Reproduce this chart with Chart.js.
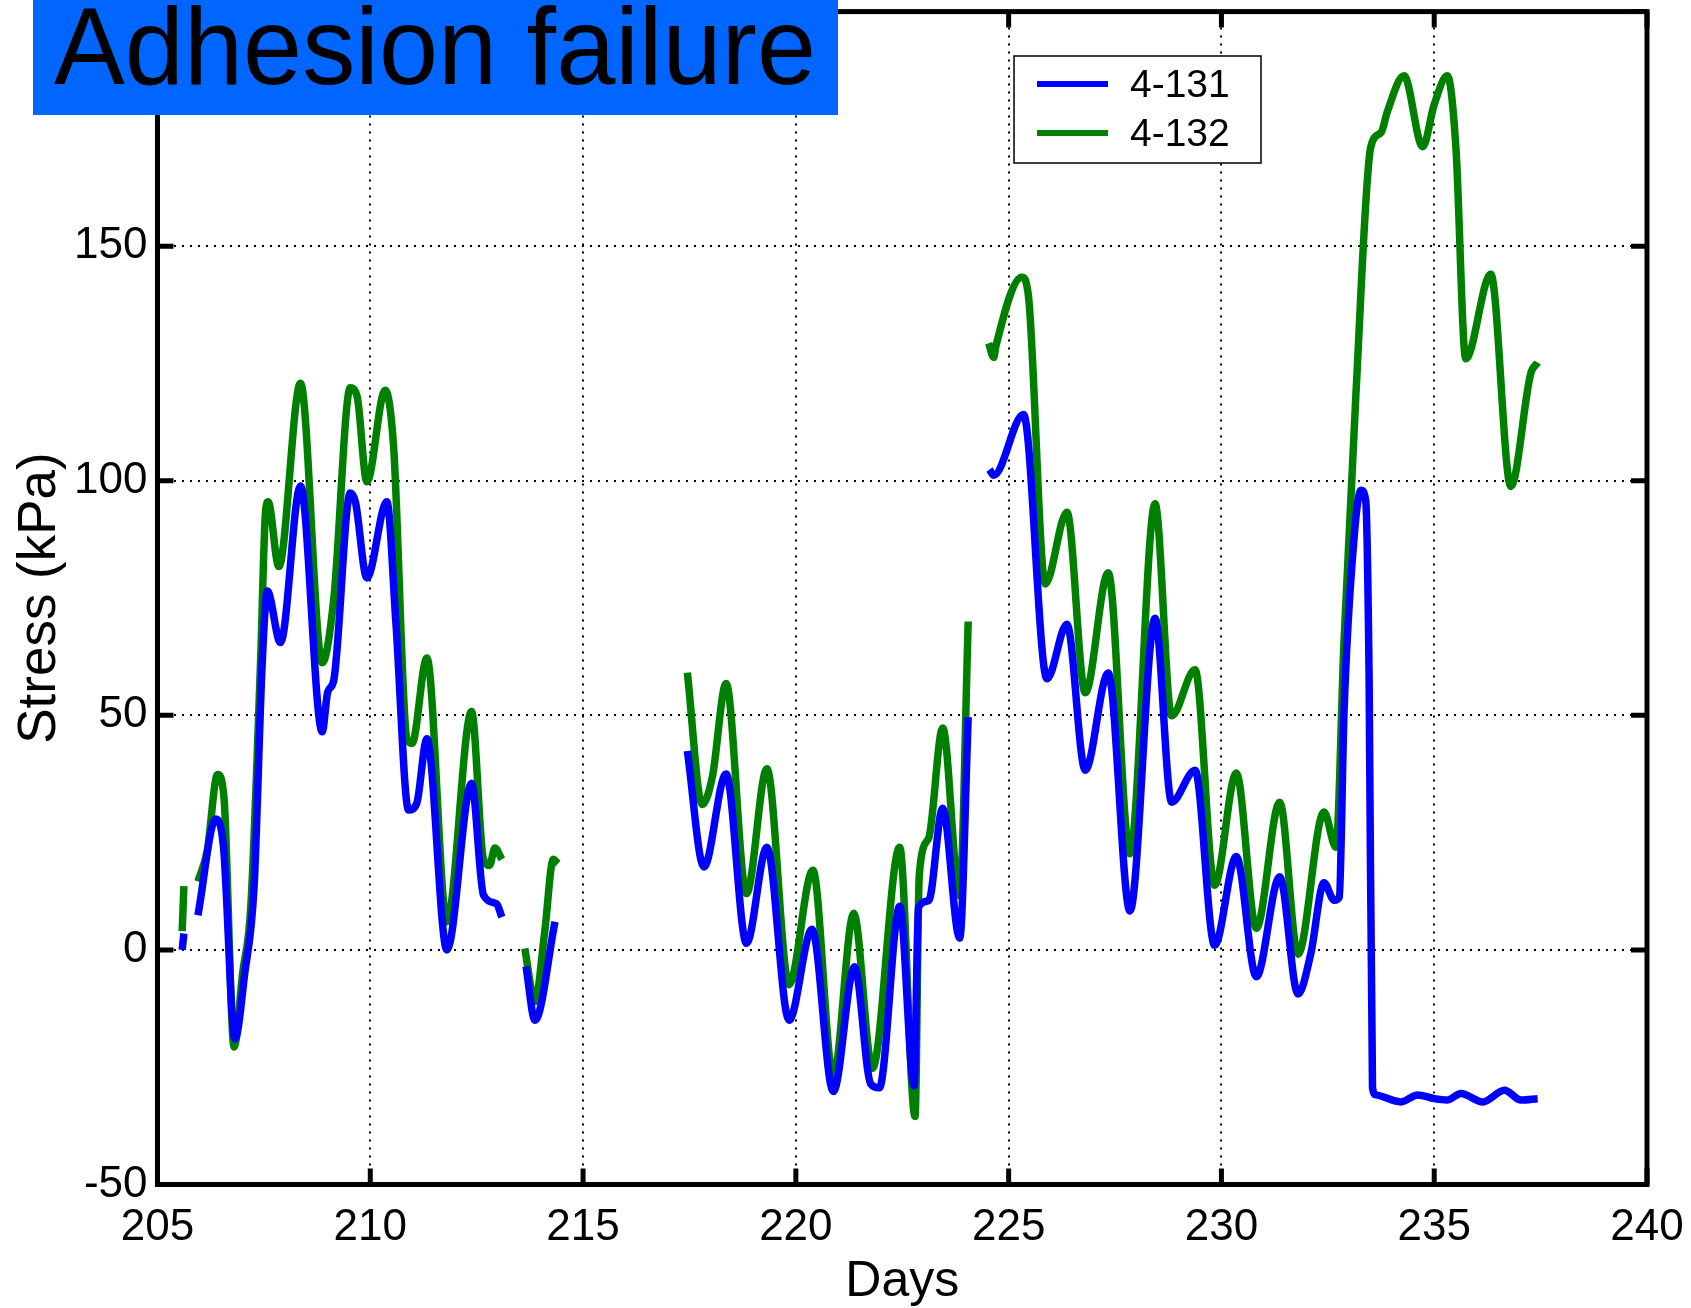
<!DOCTYPE html>
<html>
<head>
<meta charset="utf-8">
<title>Adhesion failure</title>
<script src="https://cdn.jsdelivr.net/npm/chart.js@4/dist/chart.umd.min.js"></script>
<style>
  html, body { margin: 0; padding: 0; background: #ffffff; }
  #wrap { width: 1691px; height: 1308px; position: relative; }
</style>
</head>
<body>
<div id="wrap"><canvas id="chart" width="1691" height="1308"></canvas></div>
<script>
// Gauge 4-131 (null stress values separate the recording periods)
const day131 = [
  205.58, 205.62, 205.75,
  205.95, 206.37, 206.55, 206.82, 207.05, 207.27, 207.46, 207.58, 207.89, 208.36, 208.87, 209.00,
  209.14, 209.53, 209.65, 209.92, 210.39, 210.60, 210.90, 211.09, 211.33, 211.80, 212.38, 212.66,
  212.97, 213.09, 213.40,
  213.66, 213.87, 214.34, 216.00,
  217.45, 217.84, 218.36, 218.84, 219.32, 219.84, 220.38, 220.88, 221.38, 221.76, 221.96, 222.44,
  222.78, 222.88, 223.12, 223.45, 223.85, 224.05, 224.30,
  224.55, 224.65, 225.35, 225.90, 226.37, 226.80, 227.34, 227.85, 228.44, 228.83, 229.38, 229.84,
  230.35, 230.82, 231.37, 231.80, 232.10, 232.41, 232.65, 232.77, 232.88, 233.12, 233.28, 233.39,
  233.47, 233.55, 233.63, 234.22, 234.61, 235.00, 235.30, 235.63, 236.14, 236.65, 237.04, 237.43
];
const stress131 = [
  0, 3.5, null,
  7.4, 27.9, 22, -19, -5, 13.6, 61, 76.5, 65.5, 98.9, 46.5, 55,
  57.4, 97.4, 95.5, 79.3, 95.5, 70, 29.8, 31.2, 45, 0, 35.5, 11.7,
  9.8, 7, null,
  -3.5, -15, 6, null,
  42.4, 17.7, 37.5, 1.4, 21.9, -15, 4.4, -30.2, -3.6, -28.6, -29.4, 9.3,
  -29, 9, 10.5, 30.2, 2.5, 49.6, null,
  102.4, 101.2, 114.1, 57.8, 69.4, 38.3, 59, 8.3, 70.7, 31.5, 38.3, 1,
  19.9, -5.7, 15.6, -9.4, -0.8, 14.3, 10.6, 11.3, 50.5, 88.2, 98, 95.8,
  58, -29.4, -30.9, -32.4, -30.9, -31.7, -32, -30.6, -32.4, -29.9, -32, -31.7
];

// Gauge 4-132
const day132 = [
  205.58, 205.62, 205.75,
  205.95, 206.17, 206.41, 206.56, 206.80, 207.00, 207.19, 207.42, 207.54, 207.60, 207.85, 208.36,
  208.87, 209.14, 209.53, 209.69, 209.92, 210.35, 210.55, 210.86, 210.98, 211.33, 211.80, 212.38,
  212.66, 212.80, 212.93, 213.09, 213.40,
  213.63, 213.87, 214.10, 214.30, 214.41, 216.00,
  217.45, 217.80, 218.04, 218.36, 218.84, 219.32, 219.84, 220.40, 220.88, 221.36, 221.80, 222.44,
  222.80, 222.90, 223.12, 223.45, 223.85, 224.05, 224.30,
  224.53, 224.65, 224.70, 225.31, 225.47, 225.86, 226.37, 226.80, 227.34, 227.85, 228.44, 228.83,
  229.38, 229.84, 230.35, 230.82, 231.37, 231.80, 232.41, 232.69, 232.88, 233.16, 233.51, 233.75,
  233.90, 234.29, 234.73, 235.00, 235.31, 235.51, 235.74, 236.33, 236.80, 237.27, 237.43
];
const stress132 = [
  4, 13.6, null,
  14.6, 21.2, 37.4, 32.7, -20.7, -5, 8.9, 61, 93.6, 95.5, 81.7, 120.8,
  61.2, 74.6, 119.8, 118, 99.8, 119.3, 107, 45, 44, 62.2, 6, 50.8,
  19.3, 18, 21.7, 19.3, null,
  0.3, -11, 4, 19.3, 18.4, null,
  59.1, 31, 37, 56.8, 12, 38.6, -7.4, 17, -27, 7.8, -25.2, 21.9,
  -35.5, 16, 23.8, 47.3, 11.6, 70, null,
  129.3, 126.3, 128.7, 143.4, 139, 78, 93.3, 54.8, 80.4, 20.5, 95.1, 49.9,
  59.7, 13.8, 37.7, 4.6, 31.5, -0.9, 29.4, 21.9, 65.6, 118.4, 171.2, 174.2,
  178.7, 186.3, 171.2, 180.2, 186.3, 171, 126, 144, 98.8, 122.9, 125.2
];

const seriesNames = ['4-131', '4-132'];
const dayTicks = [205, 210, 215, 220, 225, 230, 235, 240];
const stressTicks = [-50, 0, 50, 100, 150, 200];
const stressLabels = ['-50', '0', '50', '100', '150', '200'];
const titleText = 'Adhesion failure';

const FONT = '"Liberation Sans", Arial, Helvetica, sans-serif';

function points(xs, ys) {
  return xs.map((x, i) => ({ x: x, y: ys[i] }));
}

// Axes box with inward tick marks on all four sides
const framePlugin = {
  id: 'frame',
  afterDraw(chart) {
    const { ctx, chartArea: a, scales } = chart;
    const len = 16;
    ctx.save();
    ctx.strokeStyle = '#000';
    ctx.lineWidth = 5;
    ctx.lineCap = 'square';
    ctx.strokeRect(a.left, a.top, a.right - a.left, a.bottom - a.top);
    ctx.beginPath();
    scales.x.ticks.forEach(t => {
      const px = scales.x.getPixelForValue(t.value);
      ctx.moveTo(px, a.bottom); ctx.lineTo(px, a.bottom - len);
      ctx.moveTo(px, a.top); ctx.lineTo(px, a.top + len);
    });
    scales.y.ticks.forEach(t => {
      const py = scales.y.getPixelForValue(t.value);
      ctx.moveTo(a.left, py); ctx.lineTo(a.left + len, py);
      ctx.moveTo(a.right, py); ctx.lineTo(a.right - len, py);
    });
    ctx.lineCap = 'butt';
    ctx.stroke();
    ctx.restore();
  }
};

// Boxed legend in the upper part of the plot
const legendBoxPlugin = {
  id: 'legendBox',
  afterDraw(chart) {
    const { ctx } = chart;
    const box = { x: 1014, y: 56, w: 247, h: 107 };
    ctx.save();
    ctx.fillStyle = '#fff';
    ctx.fillRect(box.x, box.y, box.w, box.h);
    ctx.strokeStyle = '#000';
    ctx.lineWidth = 1.5;
    ctx.strokeRect(box.x, box.y, box.w, box.h);
    chart.data.datasets.forEach((ds, i) => {
      const y = 84 + i * 49;
      ctx.strokeStyle = ds.borderColor;
      ctx.lineWidth = 6;
      ctx.beginPath();
      ctx.moveTo(1037, y); ctx.lineTo(1108, y);
      ctx.stroke();
      ctx.fillStyle = '#000';
      ctx.font = '39px ' + FONT;
      ctx.textBaseline = 'middle';
      ctx.textAlign = 'left';
      ctx.fillText(ds.label, 1130, y + 2);
    });
    ctx.restore();
  }
};

// Heading banner over the top-left corner
const bannerPlugin = {
  id: 'banner',
  afterDraw(chart) {
    const { ctx } = chart;
    ctx.save();
    ctx.fillStyle = '#0066ff';
    ctx.fillRect(33, 0, 805, 115);
    ctx.fillStyle = '#000';
    ctx.font = '110px ' + FONT;
    ctx.textBaseline = 'alphabetic';
    ctx.textAlign = 'left';
    ctx.translate(54, 84);
    ctx.scale(0.966, 1);
    ctx.fillText(titleText, 0, 0);
    ctx.restore();
  }
};

new Chart(document.getElementById('chart'), {
  type: 'line',
  data: {
    datasets: [
      {
        label: seriesNames[0],
        data: points(day131, stress131),
        borderColor: '#0000ff',
        borderWidth: 7.5,
        cubicInterpolationMode: 'monotone',
        borderJoinStyle: 'round',
        pointRadius: 0,
        spanGaps: false
      },
      {
        label: seriesNames[1],
        data: points(day132, stress132),
        borderColor: '#007f00',
        borderWidth: 7.5,
        cubicInterpolationMode: 'monotone',
        borderJoinStyle: 'round',
        pointRadius: 0,
        spanGaps: false
      }
    ]
  },
  options: {
    responsive: false,
    devicePixelRatio: 1,
    animation: false,
    events: [],
    layout: { autoPadding: false, padding: { left: 0, right: 44, top: 11.6, bottom: 0 } },
    plugins: { legend: { display: false }, tooltip: { enabled: false } },
    scales: {
      x: {
        type: 'linear',
        min: 205,
        max: 240,
        afterBuildTicks: s => { s.ticks = dayTicks.map(v => ({ value: v })); },
        afterFit: s => { s.height = 123.5; s.paddingLeft = 0; s.paddingRight = 0; },
        ticks: { color: '#000', font: { family: FONT, size: 44 }, padding: 17, maxRotation: 0, autoSkip: false },
        grid: { color: '#000', lineWidth: 2, drawTicks: false },
        border: { display: false, dash: [2, 6] },
        title: { display: true, text: 'Days', color: '#000', font: { family: FONT, size: 50, lineHeight: 1 }, padding: { top: 0, bottom: 1 } }
      },
      y: {
        type: 'linear',
        min: -50,
        max: 200,
        afterBuildTicks: s => { s.ticks = stressTicks.map(v => ({ value: v })); },
        afterFit: s => { s.width = 157.5; s.paddingTop = 0; s.paddingBottom = 0; },
        ticks: {
          color: '#000', font: { family: FONT, size: 44 }, padding: 10, autoSkip: false,
          callback: (v) => { const i = stressTicks.indexOf(v); return i >= 0 ? stressLabels[i] : null; }
        },
        grid: { color: '#000', lineWidth: 2, drawTicks: false },
        border: { display: false, dash: [2, 6] },
        title: { display: true, text: 'Stress (kPa)', color: '#000', font: { family: FONT, size: 53 }, padding: { top: 9, bottom: 0 } }
      }
    }
  },
  plugins: [framePlugin, legendBoxPlugin, bannerPlugin]
});
</script>
</body>
</html>
